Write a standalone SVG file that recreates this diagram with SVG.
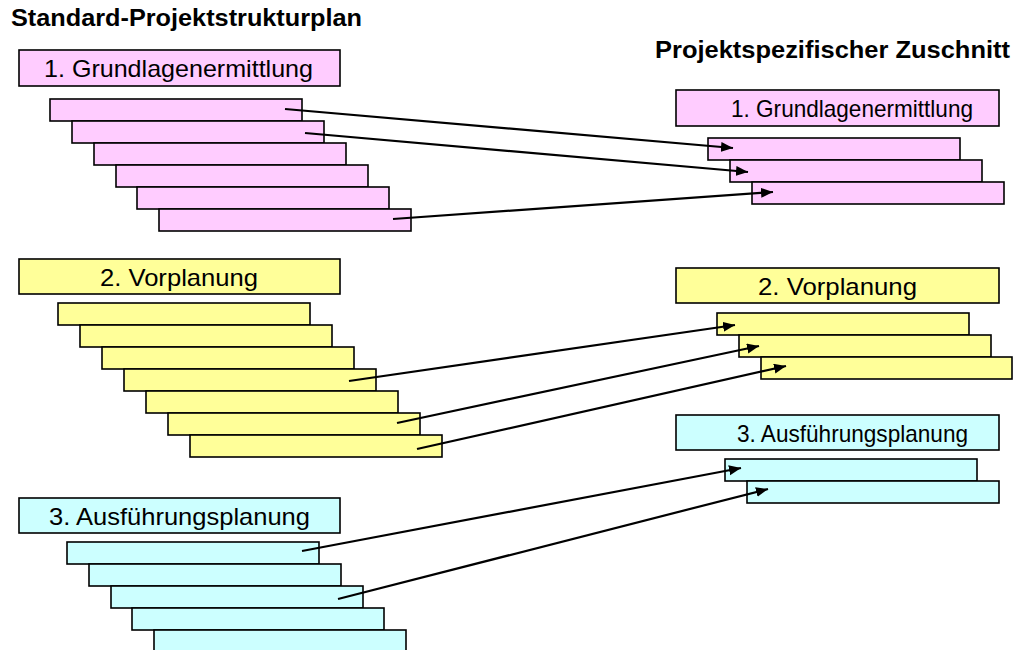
<svg xmlns="http://www.w3.org/2000/svg" width="1014" height="650" viewBox="0 0 1014 650">
  <style>
    .title { font-family: "Liberation Sans", Arial, sans-serif; font-weight: bold; font-size: 23px; fill: #000; }
    .hdr { font-family: "Liberation Sans", Arial, sans-serif; font-size: 24px; fill: #000; }
    .mid { text-anchor: middle; }
    .box { stroke: #000; stroke-width: 1.6; }
    .p1 { fill: #FFCCFF; }
    .p2 { fill: #FFFF99; }
    .p3 { fill: #CCFFFF; }
    .link { stroke: #000; stroke-width: 2.2; fill: none; marker-end: url(#arrow); }
  </style>
  <defs>
    <marker id="arrow" markerUnits="userSpaceOnUse" markerWidth="13" markerHeight="11" refX="12" refY="5" orient="auto">
      <path d="M0,0 L12,5 L0,10 z" fill="#000"/>
    </marker>
  </defs>

  <rect width="1014" height="650" fill="#fff"/>

  <text class="title" x="11" y="26" textLength="351" lengthAdjust="spacingAndGlyphs">Standard-Projektstrukturplan</text>
  <text class="title" x="655" y="58" textLength="355" lengthAdjust="spacingAndGlyphs">Projektspezifischer Zuschnitt</text>

  <!-- standard structure: phase 1 -->
  <g id="std-phase1">
    <rect class="box p1" x="19" y="50" width="321" height="36"/>
    <text class="hdr mid" x="178.5" y="77" textLength="269" lengthAdjust="spacingAndGlyphs">1. Grundlagenermittlung</text>
    <rect class="box p1" x="50" y="99" width="252" height="22"/>
    <rect class="box p1" x="72" y="121" width="252" height="22"/>
    <rect class="box p1" x="94" y="143" width="252" height="22"/>
    <rect class="box p1" x="116" y="165" width="252" height="22"/>
    <rect class="box p1" x="137" y="187" width="252" height="22"/>
    <rect class="box p1" x="159" y="209" width="252" height="22"/>
  </g>

  <!-- standard structure: phase 2 -->
  <g id="std-phase2">
    <rect class="box p2" x="19" y="259" width="321" height="35"/>
    <text class="hdr mid" x="179" y="286" textLength="158" lengthAdjust="spacingAndGlyphs">2. Vorplanung</text>
    <rect class="box p2" x="58" y="303" width="252" height="22"/>
    <rect class="box p2" x="80" y="325" width="252" height="22"/>
    <rect class="box p2" x="102" y="347" width="252" height="22"/>
    <rect class="box p2" x="124" y="369" width="252" height="22"/>
    <rect class="box p2" x="146" y="391" width="252" height="22"/>
    <rect class="box p2" x="168" y="413" width="252" height="22"/>
    <rect class="box p2" x="190" y="435" width="252" height="22"/>
  </g>

  <!-- standard structure: phase 3 -->
  <g id="std-phase3">
    <rect class="box p3" x="19" y="498" width="321" height="35"/>
    <text class="hdr mid" x="179.5" y="525" textLength="261" lengthAdjust="spacingAndGlyphs">3. Ausführungsplanung</text>
    <rect class="box p3" x="67" y="542" width="252" height="22"/>
    <rect class="box p3" x="89" y="564" width="252" height="22"/>
    <rect class="box p3" x="111" y="586" width="252" height="22"/>
    <rect class="box p3" x="132" y="608" width="252" height="22"/>
    <rect class="box p3" x="154" y="630" width="252" height="24"/>
  </g>

  <!-- project-specific selection: phase 1 -->
  <g id="sel-phase1">
    <rect class="box p1" x="676" y="90" width="323" height="36"/>
    <text class="hdr" x="731" y="117" textLength="242" lengthAdjust="spacingAndGlyphs">1. Grundlagenermittlung</text>
    <rect class="box p1" x="708" y="138" width="252" height="22"/>
    <rect class="box p1" x="730" y="160" width="252" height="22"/>
    <rect class="box p1" x="752" y="182" width="252" height="22"/>
  </g>

  <!-- project-specific selection: phase 2 -->
  <g id="sel-phase2">
    <rect class="box p2" x="676" y="268" width="323" height="35"/>
    <text class="hdr mid" x="837.5" y="295" textLength="159" lengthAdjust="spacingAndGlyphs">2. Vorplanung</text>
    <rect class="box p2" x="717" y="313" width="252" height="22"/>
    <rect class="box p2" x="739" y="335" width="252" height="22"/>
    <rect class="box p2" x="761" y="357" width="251" height="22"/>
  </g>

  <!-- project-specific selection: phase 3 -->
  <g id="sel-phase3">
    <rect class="box p3" x="676" y="415" width="323" height="35"/>
    <text class="hdr" x="737" y="442" textLength="231" lengthAdjust="spacingAndGlyphs">3. Ausführungsplanung</text>
    <rect class="box p3" x="725" y="459" width="252" height="22"/>
    <rect class="box p3" x="747" y="481" width="252" height="22"/>
  </g>

  <!-- connectors: selected work packages -->
  <g id="connectors">
    <line class="link" x1="285" y1="109" x2="733" y2="148"/>
    <line class="link" x1="305" y1="133" x2="748" y2="172"/>
    <line class="link" x1="393" y1="219" x2="773" y2="192"/>
    <line class="link" x1="349" y1="381" x2="735" y2="325"/>
    <line class="link" x1="397" y1="423" x2="759" y2="346"/>
    <line class="link" x1="417" y1="449" x2="786" y2="366"/>
    <line class="link" x1="302" y1="551" x2="741" y2="468"/>
    <line class="link" x1="338" y1="599" x2="768" y2="489"/>
  </g>
</svg>
